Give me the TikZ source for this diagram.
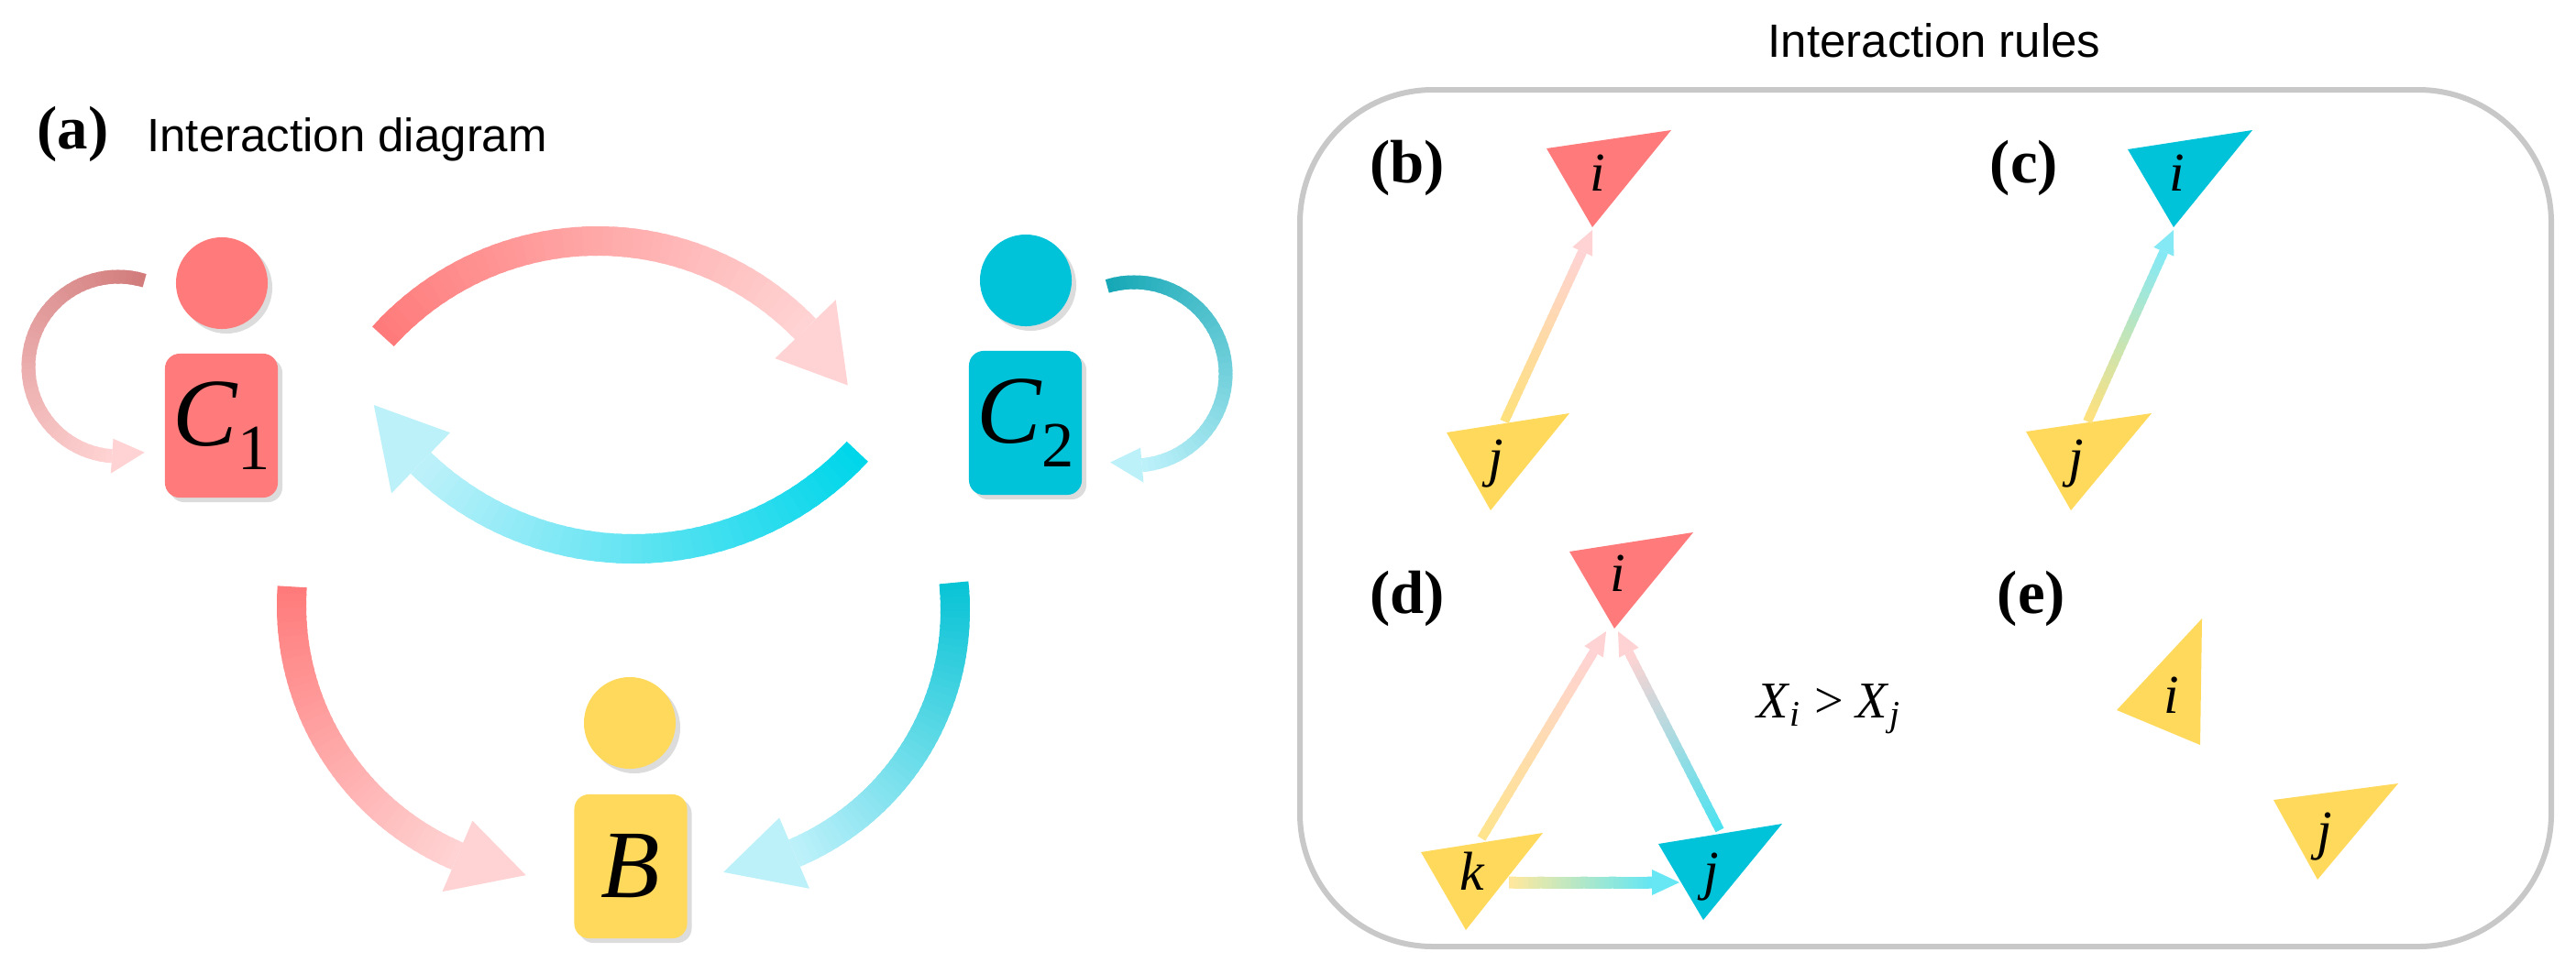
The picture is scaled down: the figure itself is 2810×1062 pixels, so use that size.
\documentclass[tikz,border=0pt]{standalone}
\usepackage{fontspec}
\setmainfont{Liberation Serif}
\newfontfamily\sansf{Liberation Sans}
\usetikzlibrary{calc,shadows}
\definecolor{cred}{HTML}{FF7B7B}
\definecolor{ccyan}{HTML}{00C2D9}
\definecolor{cyel}{HTML}{FFD95C}
\definecolor{lpink}{HTML}{FFD3D3}
\definecolor{lcyan}{HTML}{BDF1FA}
\definecolor{acyan}{HTML}{00D6EA}
\definecolor{rose}{HTML}{D27C7C}
\definecolor{dcyan}{HTML}{16A8B6}
\definecolor{frame}{HTML}{C8C8C8}
\colorlet{mcyan}{dcyan!40!acyan}
\colorlet{yel80}{cyel!80}
\colorlet{yel70}{cyel!70}
\colorlet{yel60}{cyel!60}
\colorlet{cy70}{acyan!70}
\colorlet{cy60}{acyan!60}
\colorlet{lcy}{lcyan!70!acyan}
% gradient arc: center, r, a0, a_base, a_tip, shaft width(px), head width(px), c1, c2
\newcommand\grarc[9]{%
  \foreach \k in {0,...,47}{%
    \pgfmathsetmacro\aA{#3+(#4-#3)*\k/48}%
    \pgfmathsetmacro\aB{#3+(#4-#3)*min(\k+1.5,48)/48}%
    \pgfmathsetmacro\pc{100*(1-\k/47)}%
    \draw[line width=#6*0.01cm, draw={#8!\pc!#9}] ([shift={(#1)}]\aA:#2) arc[start angle=\aA, end angle=\aB, radius=#2];}%
  \fill[#9] ([shift={(#1)}]#5:#2) -- ([shift={(#1)}]#4:{#2-#7/2}) -- ([shift={(#1)}]#4:{#2+#7/2}) -- cycle;}
% gradient straight arrow: A, B, shaft width px, c1, c2, head length, half head width
\newcommand\grline[7]{%
  \coordinate (gB) at ($(#2)!#6!(#1)$);
  \foreach \k in {0,...,29}{%
    \pgfmathsetmacro\pc{100*(1-\k/29)}%
    \pgfmathsetmacro\tA{\k/30}%
    \pgfmathsetmacro\tB{min(\k+1.5,30)/30}%
    \draw[line width=#3*0.01cm, draw={#4!\pc!#5}] ($(#1)!\tA!(gB)$) -- ($(#1)!\tB!(gB)$);}%
  \fill[#5] (#2) -- ($(gB)!#7!90:(#2)$) -- ($(gB)!#7!-90:(#2)$) -- cycle;}
\tikzset{
  shad/.style={drop shadow={opacity=0.28, shadow xshift=0.05cm, shadow yshift=-0.05cm}},
  head/.style={circle, minimum size=1cm, inner sep=0pt, shad},
  body/.style={rounded corners=0.16cm, minimum width=1.23cm, minimum height=1.57cm, inner sep=0pt, shad, font=\fontsize{30}{32}\selectfont},
  lab/.style={font=\bfseries\fontsize{19}{21}\selectfont},
  tlab/.style={font=\itshape\fontsize{17}{19}\selectfont, inner sep=0pt},
  ttl/.style={font=\sansf\fontsize{14.5}{16}\selectfont},
}
\newcommand\sbs[1]{\raisebox{-0.25em}{\upshape\fontsize{20}{22}\selectfont #1}}
\begin{document}
\begin{tikzpicture}[x=0.01cm,y=0.01cm]
\useasboundingbox (0,0) rectangle (2810,1062);
% ---- panel (a)
\node[lab,anchor=west] (la) at (28,916) {(a)};
\node[ttl,anchor=base west] (ta) at (148,897) {Interaction diagram};
% arcs
\grarc{129,662}{98}{73}{266}{287}{15}{38}{rose}{lpink}
\grarc{1237,654}{100}{107}{-85}{-105}{15}{38}{dcyan}{lcyan}
\grarc{652,484}{315}{138}{44}{30}{32}{92}{cred}{lpink}
\grarc{691,797}{334}{317}{226}{212}{32}{92}{acyan}{lcyan}
\grarc{615,401}{297}{176}{247}{262}{32}{84}{cred}{lpink}
\grarc{754,396}{288}{6}{-67}{-83}{32}{84}{mcyan}{lcyan}
% actors
\node[head, fill=cred] (h1) at (242,753) {};
\node[body, fill=cred] (c1) at (241.5,597.5) {\itshape C\sbs{1}};
\node[head, fill=ccyan] (h2) at (1119,756) {};
\node[body, fill=ccyan] (c2) at (1118.5,600.5) {\itshape C\sbs{2}};
\node[head, fill=cyel] (h3) at (687,273) {};
\node[body, fill=cyel] (bb) at (688,116.5) {\itshape B};
% ---- panel rules
\node[ttl] (tr) at (2110,1018) {Interaction rules};
\draw[frame, line width=0.06cm, rounded corners=1.45cm] (1418,29) rectangle (2783,964);
\node[lab] (lb) at (1535,879) {(b)};
\node[lab] (lc) at (2208,879) {(c)};
\node[lab] (ld) at (1535,409) {(d)};
\node[lab] (le) at (2216,409) {(e)};
% (b)
\fill[cred] (1687,900) -- (1823,920) -- (1737,814) -- cycle;
\fill[cyel] (1578,590) -- (1712,611) -- (1626,505) -- cycle;
\node[tlab] (bi) at (1743,873) {i};
\node[tlab] (bj) at (1632,556) {j};
\coordinate (b1) at (1641,602); \coordinate (b2) at (1737,811);
\grline{b1}{b2}{10}{yel80}{lpink}{0.26cm}{0.12cm}
% (c)
\fill[ccyan] (2321,899) -- (2457,920) -- (2371,814) -- cycle;
\fill[cyel] (2210,591) -- (2347,611) -- (2259,505) -- cycle;
\node[tlab] (ci) at (2375,873) {i};
\node[tlab] (cj) at (2265,556) {j};
\coordinate (c1a) at (2277,602); \coordinate (c2a) at (2371,811);
\grline{c1a}{c2a}{10}{yel80}{lcy}{0.26cm}{0.12cm}
% (d)
\fill[cred] (1712,460) -- (1847,481) -- (1761,376) -- cycle;
\fill[cyel] (1550,132) -- (1683,153) -- (1599,47) -- cycle;
\fill[ccyan] (1809,141) -- (1944,163) -- (1858,58) -- cycle;
\coordinate (d1) at (1616,147); \coordinate (d2) at (1752,373);
\coordinate (d3) at (1876,156); \coordinate (d4) at (1765,373);
\coordinate (d5) at (1646,99); \coordinate (d6) at (1832,99);
\grline{d1}{d2}{10}{yel70}{lpink}{0.26cm}{0.12cm}
\grline{d3}{d4}{10}{cy70}{lpink}{0.26cm}{0.12cm}
\grline{d5}{d6}{13}{yel60}{cy60}{0.3cm}{0.14cm}
\node[tlab] (di) at (1765,436) {i};
\node[tlab] (dk) at (1606,111) {k};
\node[tlab] (dj) at (1867,105) {j};
\node[font=\fontsize{16}{18}\selectfont] (xx) at (1995,288) {\textit{X}\textsubscript{\itshape i} {\upshape >} \textit{X}\textsubscript{\itshape j}};
% (e)
\fill[cyel] (2402,387) -- (2309,287) -- (2400,249) -- cycle;
\fill[cyel] (2480,189) -- (2616,207) -- (2528,102) -- cycle;
\node[tlab] (ei) at (2369,303) {i};
\node[tlab] (ej) at (2536,149) {j};
\end{tikzpicture}
\end{document}
